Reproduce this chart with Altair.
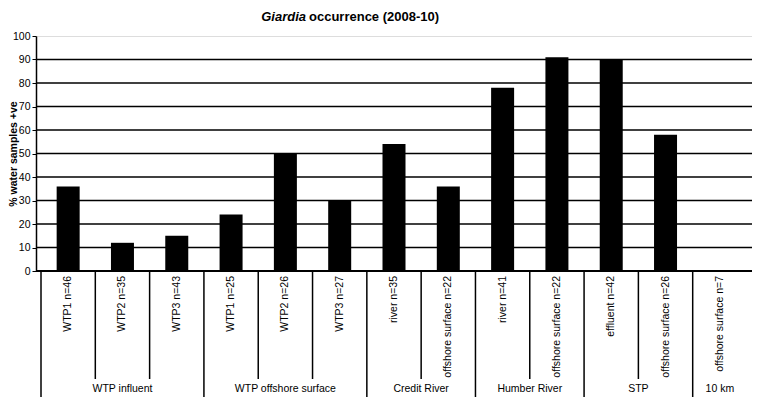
import altair as alt
import pandas as pd

groups = ["WTP influent", "WTP offshore surface", "Credit River", "Humber River", "STP", "10 km"]
group_sizes = [3, 3, 2, 2, 2, 1]
sites = ["WTP1 n=46", "WTP2 n=35", "WTP3 n=43",
         "WTP1 n=25", "WTP2 n=26", "WTP3 n=27",
         "river n=35", "offshore surface n=22",
         "river n=41", "offshore surface n=22",
         "effluent n=42", "offshore surface n=26",
         "offshore surface n=7"]
values = [36, 12, 15, 24, 50, 30, 54, 36, 78, 91, 90, 58, 0]
y_ticks = list(range(0, 101, 10))
grid_vals = list(range(10, 100, 10))

FONT = "Liberation Sans"
W, H = 716, 235
n = len(sites)

bars_df = pd.DataFrame({"idx": list(range(n)), "site": sites, "value": values})

# group layout
g_rows, inner_rows, outer_rows = [], [], []
start = 0
for g, s in zip(groups, group_sizes):
    g_rows.append({"group": g, "center": start + (s - 1) / 2})
    outer_rows.append({"pos": start - 0.5})
    for k in range(1, s):
        inner_rows.append({"pos": start + k - 0.5})
    start += s
groups_df = pd.DataFrame(g_rows)
inner_df = pd.DataFrame(inner_rows)
outer_df = pd.DataFrame(outer_rows)
grid_df = pd.DataFrame({"v": grid_vals})

xscale = alt.Scale(domain=[-0.5, n - 0.5], nice=False, zero=False)
yscale = alt.Scale(domain=[0, 100], nice=False)

yaxis = alt.Axis(values=y_ticks, title="% water samples +ve",
                 titleFont=FONT, titleFontSize=10.5, titleFontWeight="bold",
                 titleColor="black", titleX=-23, titleY=H / 2,
                 titleAngle=270, titleAlign="center", titleBaseline="middle",
                 labelFont=FONT, labelFontSize=10.5, labelColor="black",
                 labelOverlap=False, labelPadding=2,
                 tickColor="black", tickSize=4,
                 domainColor="black", domainWidth=1.5, grid=False)

bars = alt.Chart(bars_df).mark_bar(color="black", size=23).encode(
    x=alt.X("idx:Q", scale=xscale, axis=None),
    y=alt.Y("value:Q", scale=yscale, axis=yaxis),
)

grid = alt.Chart(grid_df).mark_rule(color="black", strokeWidth=1.6).encode(
    y=alt.Y("v:Q", scale=yscale, axis=yaxis),
    x=alt.value(0), x2=alt.value(W),
)

baseline = alt.Chart(grid_df).mark_rule(color="black", strokeWidth=1.5).encode(
    y=alt.value(H), x=alt.value(0), x2=alt.value(W)
)

inner_sep = alt.Chart(inner_df).mark_rule(color="black", strokeWidth=1.5).encode(
    x=alt.X("pos:Q", scale=xscale, axis=None),
    y=alt.value(H), y2=alt.value(343),
)
outer_sep = alt.Chart(outer_df).mark_rule(color="black", strokeWidth=1.5).encode(
    x=alt.X("pos:Q", scale=xscale, axis=None),
    y=alt.value(H), y2=alt.value(361),
)

site_labels = alt.Chart(bars_df).mark_text(
    angle=270, align="right", baseline="middle", font=FONT, fontSize=10.5, color="black"
).encode(
    x=alt.X("idx:Q", scale=xscale, axis=None),
    y=alt.value(H + 5),
    text="site:N",
)

group_labels = alt.Chart(groups_df).mark_text(
    align="center", baseline="middle", font=FONT, fontSize=10.5, color="black"
).encode(
    x=alt.X("center:Q", scale=xscale, axis=None),
    y=alt.value(353),
    text="group:N",
)

title_a = alt.Chart(pd.DataFrame({"t": ["Giardia"]})).mark_text(
    align="right", baseline="middle", font=FONT, fontSize=13, fontWeight="bold",
    fontStyle="italic", color="black"
).encode(x=alt.value(270), y=alt.value(-19), text="t:N")

title_b = alt.Chart(pd.DataFrame({"t": ["occurrence (2008-10)"]})).mark_text(
    align="left", baseline="middle", font=FONT, fontSize=13, fontWeight="bold", color="black"
).encode(x=alt.value(273), y=alt.value(-19), text="t:N")

chart = alt.layer(
    bars, grid, baseline, inner_sep, outer_sep, site_labels, group_labels, title_a, title_b
).properties(
    width=W, height=H,
    padding={"left": 28, "top": 28, "right": 0, "bottom": 126},
    autosize="none",
).configure_view(
    stroke="#999999", strokeWidth=1.5
).configure(background="white")

chart.save("out.html", embed_options={"renderer": "svg", "actions": False})
